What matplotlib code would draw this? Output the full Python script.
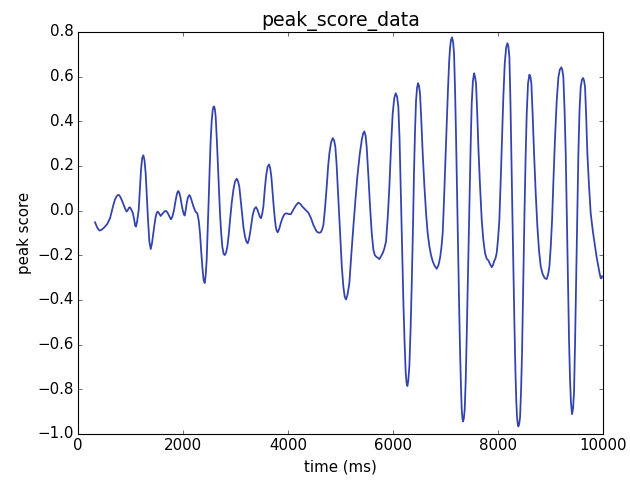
import matplotlib
matplotlib.use('Agg')
import matplotlib.pyplot as plt

# time (ms) and peak score
time_ms = [324, 365, 406, 445, 483, 520, 559, 610, 640, 673, 705, 737, 760, 781,
           805, 832, 858, 883, 905, 927, 950, 970, 991, 1015, 1042, 1070, 1090,
           1105, 1125, 1142, 1156, 1178, 1200, 1222, 1245, 1267, 1289, 1312, 1334,
           1360, 1385, 1410, 1435, 1458, 1480, 1500, 1518, 1545, 1575, 1600, 1626,
           1650, 1676, 1703, 1728, 1750, 1772, 1800, 1829, 1855, 1880, 1895, 1911,
           1930, 1949, 1972, 1994, 2015, 2032, 2050, 2070, 2095, 2121, 2145, 2172,
           2200, 2229, 2252, 2273, 2300, 2324, 2346, 2368, 2392, 2413, 2432, 2451,
           2470, 2489, 2508, 2527, 2546, 2565, 2578, 2591, 2607, 2623, 2642, 2661,
           2683, 2705, 2727, 2749, 2772, 2794, 2820, 2845, 2870, 2896, 2928, 2959,
           2990, 3023, 3048, 3073, 3098, 3124, 3152, 3181, 3207, 3232, 3255, 3277,
           3302, 3328, 3360, 3391, 3416, 3442, 3465, 3486, 3508, 3531, 3556, 3581,
           3610, 3639, 3661, 3683, 3705, 3728, 3747, 3766, 3785, 3804, 3832, 3861,
           3892, 3924, 3950, 3975, 4010, 4052, 4085, 4115, 4155, 4197, 4235,
           4274, 4330, 4388, 4440, 4483, 4547, 4590, 4623, 4650, 4674, 4705, 4737,
           4765, 4788, 4820, 4852, 4878, 4902, 4925, 4947, 4970, 4991, 5025, 5054,
           5080, 5105, 5135, 5169, 5205, 5245, 5285, 5321, 5365, 5404, 5430, 5455,
           5478, 5499, 5530, 5563, 5595, 5626, 5655, 5690, 5715, 5740, 5770, 5804,
           5835, 5867, 5900, 5931, 5965, 5994, 6025, 6052, 6078, 6102, 6125, 6147,
           6172, 6198, 6222, 6242, 6258, 6274, 6292, 6312, 6335, 6356, 6380, 6401,
           6420, 6439, 6458, 6477, 6496, 6515, 6540, 6566, 6598, 6630, 6660, 6693,
           6725, 6757, 6795, 6833, 6865, 6896, 6920, 6947, 6972, 6998, 7025, 7049,
           7068, 7087, 7105, 7125, 7145, 7163, 7182, 7201, 7220, 7240, 7260, 7278,
           7295, 7309, 7322, 7334, 7350, 7366, 7385, 7404, 7430, 7455, 7478, 7499,
           7522, 7544, 7562, 7582, 7604, 7626, 7658, 7690, 7720, 7753, 7785, 7817,
           7850, 7880, 7903, 7925, 7950, 7975, 8000, 8026, 8052, 8077, 8102, 8128,
           8155, 8179, 8198, 8217, 8236, 8255, 8274, 8293, 8312, 8331, 8348, 8363,
           8376, 8388, 8404, 8420, 8440, 8458, 8480, 8502, 8525, 8547, 8572, 8598,
           8617, 8636, 8660, 8687, 8718, 8750, 8782, 8814, 8845, 8877, 8900, 8928,
           8955, 8979, 9005, 9030, 9058, 9087, 9118, 9150, 9178, 9207, 9226, 9245,
           9268, 9290, 9312, 9334, 9353, 9372, 9390, 9410, 9430, 9448, 9467, 9486,
           9508, 9531, 9553, 9575, 9598, 9620, 9640, 9658, 9680, 9702, 9734, 9766,
           9808, 9848, 9880, 9912, 9935, 9956, 9970, 9982]

peak_score = [-0.052, -0.075, -0.089, -0.086, -0.079, -0.070, -0.059, -0.034, -0.005,
              0.025, 0.050, 0.065, 0.070, 0.070, 0.062, 0.048, 0.032, 0.018, 0.005,
              -0.004, 0.003, 0.013, 0.015, 0.005, -0.009, -0.040, -0.068, -0.071,
              -0.050, -0.020, 0.003, 0.090, 0.181, 0.235, 0.248, 0.225, 0.167, 0.060,
              -0.042, -0.140, -0.172, -0.145, -0.101, -0.060, -0.027, -0.010, -0.004,
              -0.012, -0.024, -0.016, -0.009, -0.003, -0.001, -0.008, -0.019, -0.030,
              -0.039, -0.025, 0.003, 0.040, 0.070, 0.083, 0.088, 0.080, 0.062, 0.030,
              0.003, -0.015, -0.022, 0.000, 0.033, 0.060, 0.070, 0.060, 0.040, 0.018,
              0.000, -0.008, -0.012, -0.045, -0.101, -0.180, -0.250, -0.310, -0.324,
              -0.290, -0.220, -0.090, 0.048, 0.190, 0.315, 0.400, 0.449, 0.463, 0.467,
              0.455, 0.419, 0.330, 0.226, 0.100, -0.012, -0.100, -0.161, -0.192,
              -0.199, -0.188, -0.161, -0.110, -0.042, 0.035, 0.092, 0.130, 0.143,
              0.132, 0.107, 0.050, -0.012, -0.075, -0.116, -0.138, -0.146, -0.130,
              -0.101, -0.060, -0.019, 0.008, 0.016, 0.005, -0.012, -0.028, -0.034,
              -0.015, 0.018, 0.090, 0.152, 0.195, 0.207, 0.190, 0.152, 0.085, 0.018,
              -0.030, -0.071, -0.090, -0.097, -0.082, -0.057, -0.035, -0.019, -0.013,
              -0.012, -0.015, -0.016, -0.003, 0.010, 0.025, 0.036, 0.030,
              0.018, 0.005, -0.009, -0.035, -0.064, -0.094, -0.099, -0.097, -0.085,
              -0.064, 0.010, 0.107, 0.200, 0.256, 0.305, 0.325, 0.315, 0.285, 0.210,
              0.107, 0.000, -0.100, -0.250, -0.339, -0.385, -0.398, -0.375, -0.324,
              -0.200, -0.071, 0.050, 0.152, 0.250, 0.315, 0.345, 0.355, 0.335, 0.285,
              0.160, 0.018, -0.100, -0.175, -0.200, -0.208, -0.212, -0.217, -0.205,
              -0.190, -0.170, -0.138, -0.030, 0.107, 0.300, 0.434, 0.505, 0.526,
              0.510, 0.464, 0.320, 0.107, -0.150, -0.413, -0.600, -0.725, -0.770,
              -0.785, -0.760, -0.695, -0.530, -0.339, -0.080, 0.181, 0.360, 0.493,
              0.550, 0.571, 0.558, 0.523, 0.400, 0.256, 0.110, -0.012, -0.100, -0.160,
              -0.200, -0.227, -0.248, -0.260, -0.245, -0.212, -0.170, -0.100, 0.050,
              0.226, 0.400, 0.553, 0.660, 0.731, 0.765, 0.776, 0.755, 0.701, 0.540,
              0.330, 0.080, -0.190, -0.430, -0.636, -0.790, -0.889, -0.930, -0.944,
              -0.930, -0.889, -0.760, -0.562, -0.260, 0.033, 0.280, 0.478, 0.580,
              0.615, 0.600, 0.568, 0.440, 0.285, 0.110, -0.042, -0.130, -0.190,
              -0.215, -0.223, -0.240, -0.253, -0.245, -0.227, -0.215, -0.190, -0.130,
              -0.042, 0.140, 0.330, 0.510, 0.657, 0.730, 0.750, 0.735, 0.687, 0.500,
              0.256, -0.010, -0.265, -0.500, -0.710, -0.850, -0.926, -0.955, -0.966,
              -0.955, -0.926, -0.800, -0.636, -0.340, -0.042, 0.230, 0.434, 0.570,
              0.609, 0.600, 0.568, 0.430, 0.256, 0.080, -0.071, -0.180, -0.250,
              -0.280, -0.297, -0.304, -0.306, -0.285, -0.250, -0.160, -0.042, 0.150,
              0.330, 0.490, 0.597, 0.632, 0.642, 0.630, 0.597, 0.450, 0.256, -0.030,
              -0.339, -0.580, -0.755, -0.860, -0.911, -0.885, -0.814, -0.600, -0.339,
              -0.030, 0.256, 0.450, 0.553, 0.585, 0.594, 0.582, 0.553, 0.420, 0.256,
              0.110, -0.012, -0.095, -0.160, -0.210, -0.250, -0.280, -0.302, -0.303,
              -0.294]

n = min(len(time_ms), len(peak_score))
if len(time_ms) != len(peak_score):
    print('length mismatch', len(time_ms), len(peak_score))

plt.style.use('classic')
fig = plt.figure(figsize=(630 / 80, 482 / 80), dpi=80, facecolor='white')
ax = fig.add_axes([78 / 630, 1 - 434 / 482, 525 / 630, 402 / 482])

ax.plot(time_ms[:n], peak_score[:n], color='#3343ad', linewidth=1.6)

ax.set_xlim(0, 10000)
ax.set_ylim(-1.0, 0.8)
ax.set_title('peak_score_data', fontsize=17)
ax.set_xlabel('time (ms)', fontsize=13.5)
ax.set_ylabel('peak score', fontsize=13.5)
ax.tick_params(labelsize=13.5)

fig.savefig('out.png', dpi=80, facecolor='white')
